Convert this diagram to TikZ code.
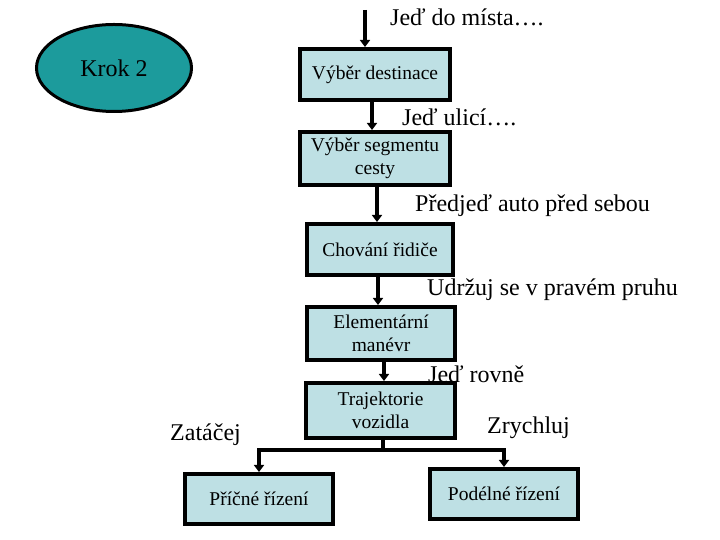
\documentclass[tikz,border=0pt]{standalone}
\usepackage{fontspec}
\setmainfont{Liberation Serif}
\usetikzlibrary{shapes.geometric,arrows.meta}
\definecolor{svetlemodra}{RGB}{190,224,228}
\definecolor{tyrkysova}{RGB}{28,155,156}

\begin{document}
\begin{tikzpicture}[x=1pt, y=1pt,
    blok/.style={draw, line width=4pt, fill=svetlemodra, align=center,
        font=\fontsize{19.5}{23.5}\selectfont, inner sep=0pt},
    popis/.style={anchor=west, inner sep=0pt, font=\fontsize{24}{28}\selectfont},
    sipka/.style={-{Triangle[length=7pt,width=10pt]}, line width=3.5pt}]
\useasboundingbox (0,0) rectangle (720,540);
% Draw step ellipse
\node[ellipse, draw, line width=3pt, fill=tyrkysova, minimum width=155pt,
    minimum height=87pt, inner sep=0pt, font=\fontsize{24}{28}\selectfont]
    (krok) at (114,472) {Krok 2};
% Draw boxes
\node[blok, minimum width=150pt, minimum height=51pt] (d1) at (375,465.5) {Výběr destinace};
\node[blok, minimum width=150pt, minimum height=53pt] (d2) at (375,381.5) {Výběr segmentu\\cesty};
\node[blok, minimum width=146pt, minimum height=51pt] (d3) at (380,290.5) {Chování řidiče};
\node[blok, minimum width=148pt, minimum height=53pt] (d4) at (381,206.5) {Elementární\\manévr};
\node[blok, minimum width=149pt, minimum height=55pt] (d5) at (380.5,129.5) {Trajektorie\\vozidla};
\node[blok, minimum width=148pt, minimum height=50pt] (d6) at (259,41) {Příčné řízení};
\node[blok, minimum width=148pt, minimum height=50pt] (d7) at (504,46) {Podélné řízení};
% Draw labels
\node[popis] (l1) at (390,523) {Jeď do místa….};
\node[popis] (l2) at (402,423) {Jeď ulicí….};
\node[popis] (l3) at (415,334) {Předjeď auto před sebou};
\node[popis] (l4) at (427,250) {Udržuj se v pravém pruhu};
\node[popis] (l5) at (428,166) {Jeď rovně};
\node[popis] (l6) at (170,105) {Zatáčej};
\node[popis] (l7) at (487,112) {Zrychluj};
% Draw arrows
\coordinate (start) at (365,530);
\draw[sipka] (start) -- (d1.north -| start);
\foreach \a/\b/\x in {d1/d2/372, d2/d3/377, d3/d4/378, d4/d5/384}
    \draw[sipka] (\a.south -| \x,0) -- (\b.north -| \x,0);
\coordinate (rozc) at (383,90);
\draw[line width=3.5pt] (d5.south -| rozc) -- (rozc);
\draw[sipka] (rozc) -| (d6.north);
\draw[sipka] (rozc) -| (d7.north);
\end{tikzpicture}
\end{document}
